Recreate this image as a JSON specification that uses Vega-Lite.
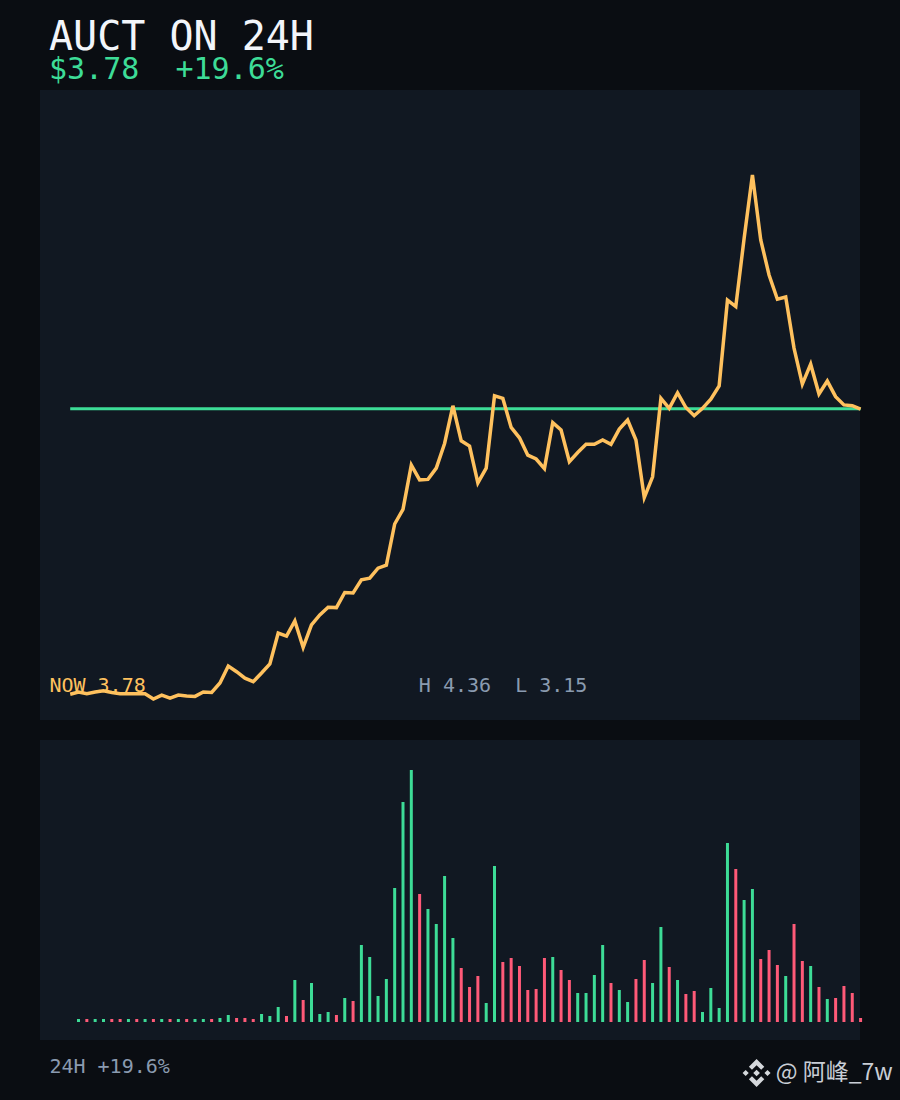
{
  "$schema": "https://vega.github.io/schema/vega-lite/v6.json",
  "background": "#0a0d12",
  "padding": {"left": 40, "right": 9, "top": 18, "bottom": 10},
  "spacing": 20,
  "config": {
    "font": "DejaVu Sans Mono",
    "view": {"fill": "#111822", "stroke": null}
  },
  "resolve": {"scale": {"color": "independent"}},
  "datasets": {
    "price": [
      {"i":0,"p":3.161},{"i":1,"p":3.166},{"i":2,"p":3.162},{"i":3,"p":3.166},{"i":4,"p":3.169},{"i":5,"p":3.165},{"i":6,"p":3.162},{"i":7,"p":3.162},
      {"i":8,"p":3.162},{"i":9,"p":3.162},{"i":10,"p":3.150},{"i":11,"p":3.159},{"i":12,"p":3.152},{"i":13,"p":3.159},{"i":14,"p":3.157},{"i":15,"p":3.156},
      {"i":16,"p":3.166},{"i":17,"p":3.165},{"i":18,"p":3.187},{"i":19,"p":3.226},{"i":20,"p":3.213},{"i":21,"p":3.198},{"i":22,"p":3.190},{"i":23,"p":3.210},
      {"i":24,"p":3.231},{"i":25,"p":3.302},{"i":26,"p":3.295},{"i":27,"p":3.330},{"i":28,"p":3.269},{"i":29,"p":3.321},{"i":30,"p":3.344},{"i":31,"p":3.362},
      {"i":32,"p":3.361},{"i":33,"p":3.396},{"i":34,"p":3.395},{"i":35,"p":3.425},{"i":36,"p":3.429},{"i":37,"p":3.452},{"i":38,"p":3.459},{"i":39,"p":3.554},
      {"i":40,"p":3.588},{"i":41,"p":3.690},{"i":42,"p":3.656},{"i":43,"p":3.657},{"i":44,"p":3.683},{"i":45,"p":3.740},{"i":46,"p":3.827},{"i":47,"p":3.746},
      {"i":48,"p":3.734},{"i":49,"p":3.649},{"i":50,"p":3.683},{"i":51,"p":3.850},{"i":52,"p":3.844},{"i":53,"p":3.777},{"i":54,"p":3.753},{"i":55,"p":3.713},
      {"i":56,"p":3.704},{"i":57,"p":3.682},{"i":58,"p":3.788},{"i":59,"p":3.771},{"i":60,"p":3.698},{"i":61,"p":3.719},{"i":62,"p":3.738},{"i":63,"p":3.738},
      {"i":64,"p":3.748},{"i":65,"p":3.738},{"i":66,"p":3.773},{"i":67,"p":3.794},{"i":68,"p":3.748},{"i":69,"p":3.615},{"i":70,"p":3.663},{"i":71,"p":3.844},
      {"i":72,"p":3.821},{"i":73,"p":3.857},{"i":74,"p":3.823},{"i":75,"p":3.804},{"i":76,"p":3.821},{"i":77,"p":3.842},{"i":78,"p":3.873},{"i":79,"p":4.071},
      {"i":80,"p":4.056},{"i":81,"p":4.213},{"i":82,"p":4.360},{"i":83,"p":4.210},{"i":84,"p":4.129},{"i":85,"p":4.073},{"i":86,"p":4.078},{"i":87,"p":3.960},
      {"i":88,"p":3.877},{"i":89,"p":3.923},{"i":90,"p":3.854},{"i":91,"p":3.884},{"i":92,"p":3.848},{"i":93,"p":3.829},{"i":94,"p":3.827},{"i":95,"p":3.819}
    ],
    "volume": [
      {"i":1,"v":3,"d":"up"},{"i":2,"v":3,"d":"down"},{"i":3,"v":3,"d":"up"},{"i":4,"v":3,"d":"up"},{"i":5,"v":3,"d":"down"},{"i":6,"v":3,"d":"down"},{"i":7,"v":3,"d":"up"},{"i":8,"v":3,"d":"down"},
      {"i":9,"v":3,"d":"up"},{"i":10,"v":3,"d":"down"},{"i":11,"v":3,"d":"up"},{"i":12,"v":3,"d":"down"},{"i":13,"v":3,"d":"up"},{"i":14,"v":3,"d":"down"},{"i":15,"v":3,"d":"up"},{"i":16,"v":3,"d":"up"},
      {"i":17,"v":3,"d":"down"},{"i":18,"v":4,"d":"up"},{"i":19,"v":7,"d":"up"},{"i":20,"v":4,"d":"down"},{"i":21,"v":4,"d":"down"},{"i":22,"v":3,"d":"down"},{"i":23,"v":8,"d":"up"},{"i":24,"v":6,"d":"up"},
      {"i":25,"v":15,"d":"up"},{"i":26,"v":6,"d":"down"},{"i":27,"v":42,"d":"up"},{"i":28,"v":22,"d":"down"},{"i":29,"v":39,"d":"up"},{"i":30,"v":8,"d":"up"},{"i":31,"v":10,"d":"up"},{"i":32,"v":7,"d":"down"},
      {"i":33,"v":24,"d":"up"},{"i":34,"v":21,"d":"down"},{"i":35,"v":77,"d":"up"},{"i":36,"v":65,"d":"up"},{"i":37,"v":26,"d":"up"},{"i":38,"v":43,"d":"up"},{"i":39,"v":134,"d":"up"},{"i":40,"v":220,"d":"up"},
      {"i":41,"v":252,"d":"up"},{"i":42,"v":128,"d":"down"},{"i":43,"v":113,"d":"up"},{"i":44,"v":98,"d":"up"},{"i":45,"v":146,"d":"up"},{"i":46,"v":84,"d":"up"},{"i":47,"v":54,"d":"down"},{"i":48,"v":35,"d":"down"},
      {"i":49,"v":46,"d":"down"},{"i":50,"v":19,"d":"up"},{"i":51,"v":156,"d":"up"},{"i":52,"v":60,"d":"down"},{"i":53,"v":64,"d":"down"},{"i":54,"v":56,"d":"down"},{"i":55,"v":32,"d":"down"},{"i":56,"v":33,"d":"down"},
      {"i":57,"v":64,"d":"down"},{"i":58,"v":65,"d":"up"},{"i":59,"v":52,"d":"down"},{"i":60,"v":42,"d":"down"},{"i":61,"v":29,"d":"up"},{"i":62,"v":29,"d":"up"},{"i":63,"v":47,"d":"up"},{"i":64,"v":77,"d":"up"},
      {"i":65,"v":39,"d":"down"},{"i":66,"v":32,"d":"up"},{"i":67,"v":20,"d":"up"},{"i":68,"v":43,"d":"down"},{"i":69,"v":62,"d":"down"},{"i":70,"v":39,"d":"up"},{"i":71,"v":95,"d":"up"},{"i":72,"v":55,"d":"down"},
      {"i":73,"v":42,"d":"up"},{"i":74,"v":28,"d":"down"},{"i":75,"v":31,"d":"down"},{"i":76,"v":10,"d":"up"},{"i":77,"v":34,"d":"up"},{"i":78,"v":14,"d":"up"},{"i":79,"v":179,"d":"up"},{"i":80,"v":153,"d":"down"},
      {"i":81,"v":122,"d":"up"},{"i":82,"v":133,"d":"up"},{"i":83,"v":63,"d":"down"},{"i":84,"v":72,"d":"down"},{"i":85,"v":57,"d":"down"},{"i":86,"v":46,"d":"up"},{"i":87,"v":98,"d":"down"},{"i":88,"v":61,"d":"down"},
      {"i":89,"v":56,"d":"up"},{"i":90,"v":35,"d":"down"},{"i":91,"v":23,"d":"up"},{"i":92,"v":24,"d":"down"},{"i":93,"v":36,"d":"down"},{"i":94,"v":29,"d":"down"},{"i":95,"v":4,"d":"down"}
    ]
  },
  "vconcat": [
    {
      "width": 820,
      "height": 630,
      "title": {
        "text": "AUCT ON 24H",
        "subtitle": "$3.78\u00a0\u00a0+19.6%",
        "anchor": "start",
        "frame": "group",
        "dx": 9,
        "offset": 5,
        "font": "DejaVu Sans Mono",
        "fontSize": 40,
        "fontWeight": "normal",
        "color": "#f2f5fa",
        "subtitleFont": "DejaVu Sans Mono",
        "subtitleFontSize": 30,
        "subtitleColor": "#3ddc97",
        "subtitlePadding": -3
      },
      "layer": [
        {
          "data": {"values": [{"from": 0, "to": 95, "p": 3.82}]},
          "mark": {"type": "rule", "color": "#3ddc97", "strokeWidth": 3},
          "encoding": {
            "x": {"field": "from", "type": "quantitative", "scale": {"domain": [-3.63, 94.93]}, "axis": null},
            "x2": {"field": "to"},
            "y": {"field": "p", "type": "quantitative", "scale": {"domain": [3.1015, 4.556]}, "axis": null}
          }
        },
        {
          "data": {"name": "price"},
          "mark": {"type": "line", "color": "#ffc15e", "strokeWidth": 3.5, "clip": false},
          "encoding": {
            "x": {"field": "i", "type": "quantitative", "scale": {"domain": [-3.63, 94.93]}, "axis": null},
            "y": {"field": "p", "type": "quantitative", "scale": {"domain": [3.1015, 4.556]}, "axis": null}
          }
        },
        {
          "data": {"values": [
            {"label": "NOW 3.78", "i": -2.5, "p": 3.18, "c": "now"},
            {"label": "H 4.36\u00a0\u00a0L 3.15", "i": 41.9, "p": 3.18, "c": "hl"}
          ]},
          "mark": {"type": "text", "align": "left", "baseline": "middle", "fontSize": 20},
          "encoding": {
            "x": {"field": "i", "type": "quantitative", "scale": {"domain": [-3.63, 94.93]}, "axis": null},
            "y": {"field": "p", "type": "quantitative", "scale": {"domain": [3.1015, 4.556]}, "axis": null},
            "text": {"field": "label"},
            "color": {"field": "c", "type": "nominal", "scale": {"domain": ["now", "hl"], "range": ["#ffc15e", "#8a9bb0"]}, "legend": null}
          }
        }
      ]
    },
    {
      "spacing": 0,
      "resolve": {"scale": {"color": "independent"}},
      "vconcat": [
        {
          "width": 820,
          "height": 300,
          "data": {"name": "volume"},
          "mark": {"type": "bar", "size": 3, "orient": "vertical", "clip": false},
          "encoding": {
            "x": {"field": "i", "type": "quantitative", "scale": {"domain": [-3.63, 94.93], "padding": 0}, "axis": null},
            "y": {"field": "v", "type": "quantitative", "scale": {"domain": [-18, 282]}, "axis": null},
            "color": {"field": "d", "type": "nominal", "scale": {"domain": ["up", "down"], "range": ["#3ddc97", "#ff5a78"]}, "legend": null}
          }
        },
        {
          "width": 820,
          "height": 50,
          "view": {"fill": null, "stroke": null},
          "layer": [
            {
              "data": {"values": [{"label": "24H +19.6%", "i": -2.5, "row": 23}]},
              "mark": {"type": "text", "align": "left", "baseline": "middle", "fontSize": 20, "color": "#8a9bb0"},
              "encoding": {
                "x": {"field": "i", "type": "quantitative", "scale": {"domain": [-3.63, 94.93]}, "axis": null},
                "y": {"field": "row", "type": "quantitative", "scale": {"domain": [0, 50]}, "axis": null},
                "text": {"field": "label"}
              }
            },
            {
              "data": {"values": [{"label": "@ 阿峰_7w", "i": 84.8, "row": 17}]},
              "mark": {"type": "text", "align": "left", "baseline": "middle", "fontSize": 23, "font": "Noto Sans CJK SC", "color": "#c9ced6"},
              "encoding": {
                "x": {"field": "i", "type": "quantitative", "scale": {"domain": [-3.63, 94.93]}, "axis": null},
                "y": {"field": "row", "type": "quantitative", "scale": {"domain": [0, 50]}, "axis": null},
                "text": {"field": "label"}
              }
            },
            {
              "data": {"values": [{"i": 82.5, "row": 17}]},
              "mark": {
                "type": "point",
                "filled": true,
                "opacity": 1,
                "color": "#d5d8dc",
                "size": 784,
                "shape": "M-1 0L-.78 -.22L-.56 0L-.78 .22ZM.56 0L.78 -.22L1 0L.78 .22ZM0 -.24L.24 0L0 .24L-.24 0ZM0 -.56L-.33 -.23L-.55 -.45L0 -1L.55 -.45L.33 -.23ZM0 .56L-.33 .23L-.55 .45L0 1L.55 .45L.33 .23Z"
              },
              "encoding": {
                "x": {"field": "i", "type": "quantitative", "scale": {"domain": [-3.63, 94.93]}, "axis": null},
                "y": {"field": "row", "type": "quantitative", "scale": {"domain": [0, 50]}, "axis": null}
              }
            }
          ]
        }
      ]
    }
  ]
}
